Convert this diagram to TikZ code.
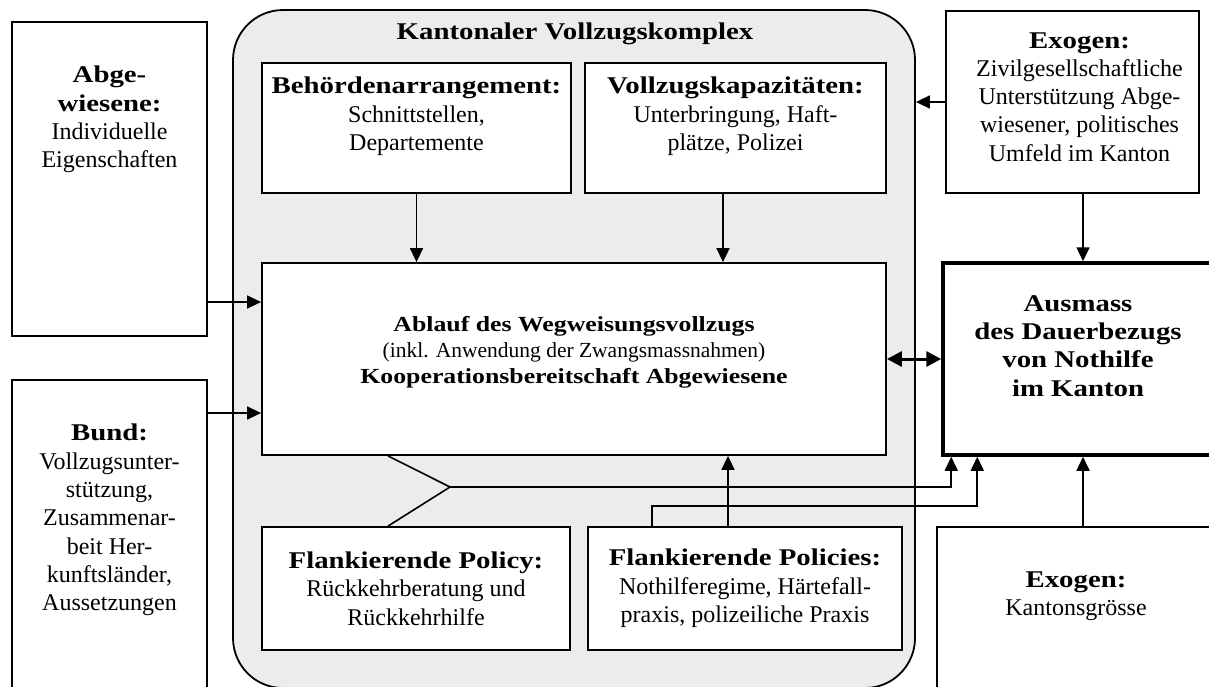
\documentclass[tikz,border=0pt]{standalone}
\usepackage{fontspec}
\setmainfont{Liberation Serif}[BoldFeatures={FakeStretch=1.2}]
\usepackage{tikz}
\usetikzlibrary{positioning,arrows.meta,calc}
\definecolor{komplexgrey}{RGB}{236,236,236}

\begin{document}
\begin{tikzpicture}[x=1pt, y=-1pt,
    box/.style={draw, line width=1.8pt, inner sep=0pt},
    txt/.style={align=center, inner sep=0pt, font=\fontsize{24}{28.3}\selectfont},
    arr/.style={-{Triangle[length=14pt,width=13pt]}, line width=1.6pt}]
    \useasboundingbox (0,0) rectangle (1209,686);
    \clip (0,0) rectangle (1209,686);

    % Kantonaler Vollzugskomplex
    \node[box, fill=komplexgrey, rounded corners=50pt, minimum width=682pt, minimum height=678pt] (komplex) at (574,349) {};
    \node[txt] (titel) at (575,34) {\textbf{Kantonaler Vollzugskomplex}};

    % Abgewiesene / Bund (left)
    \node[box, minimum width=195pt, minimum height=314pt] (abgew) at (109.5,179) {};
    \node[txt, below=45pt of abgew.north] (abgewtext) {\textbf{Abge-}\\\textbf{wiesene:}\\Individuelle\\Eigenschaften};
    \node[box, minimum width=195pt, minimum height=360pt] (bund) at (109.5,560) {};
    \node[txt, below=45pt of bund.north] (bundtext) {\textbf{Bund:}\\Vollzugsunter-\\stützung,\\Zusammenar-\\beit Her-\\kunftsländer,\\Aussetzungen};

    % Boxes inside the complex
    \node[box, fill=white, minimum width=309pt, minimum height=130pt] (behoerden) at (416.5,128) {};
    \node[txt, below=15pt of behoerden.north] (behoerdentext) {\textbf{Behördenarrangement:}\\Schnittstellen,\\Departemente};
    \node[box, fill=white, minimum width=301pt, minimum height=130pt] (kapaz) at (735.5,128) {};
    \node[txt, below=15pt of kapaz.north] (kapaztext) {\textbf{Vollzugskapazitäten:}\\Unterbringung, Haft-\\plätze, Polizei};
    \node[box, fill=white, minimum width=624pt, minimum height=192pt] (ablauf) at (574,359) {};
    \node[txt, font=\fontsize{21.5}{26}\selectfont] (ablauftext) at ([yshift=7pt]ablauf.center) {\textbf{Ablauf des Wegweisungsvollzugs}\\(inkl. Anwendung der Zwangsmassnahmen)\\\textbf{Kooperationsbereitschaft Abgewiesene}};
    \node[box, fill=white, minimum width=308pt, minimum height=123pt, txt] (policy) at (416,588.5) {\textbf{Flankierende Policy:}\\Rückkehrberatung und\\Rückkehrhilfe};
    \node[box, fill=white, minimum width=314pt, minimum height=123pt, txt] (policies) at (745,588.5) {\textbf{Flankierende Policies:}\\Nothilferegime, Härtefall-\\praxis, polizeiliche Praxis};

    % Exogen and Ausmass (right)
    \node[box, minimum width=253pt, minimum height=182pt] (exogenA) at (1072.5,102) {};
    \node[txt, below=22pt of exogenA.north, xshift=7pt] (exogenAtext) {\textbf{Exogen:}\\Zivilgesellschaftliche\\Unterstützung Abge-\\wiesener, politisches\\Umfeld im Kanton};
    \node[box, line width=3.5pt, minimum width=280pt, minimum height=192pt] (ausmass) at (1083,359) {};
    \node[txt, below=34pt of ausmass.north, xshift=-5pt] (ausmasstext) {\textbf{Ausmass}\\\textbf{des Dauerbezugs}\\\textbf{von Nothilfe}\\\textbf{im Kanton}};
    \node[box, minimum width=292pt, minimum height=213pt] (exogenB) at (1083,633.5) {};
    \node[txt, below=45pt of exogenB.north, xshift=-7pt] (exogenBtext) {\textbf{Exogen:}\\Kantonsgrösse};

    % Connectors
    \coordinate (inAbgew) at ([yshift=57pt]ablauf.west);
    \coordinate (inBund) at ([yshift=-54pt]ablauf.west);
    \coordinate (inKapaz) at ([xshift=149pt]ablauf.north);
    \coordinate (inPolicies) at ([xshift=154pt]ablauf.south);
    \coordinate (gabel) at (450,487);
    \draw[arr] (abgew.east |- inAbgew) -- (inAbgew);
    \draw[arr] (bund.east |- inBund) -- (inBund);
    \draw[arr] (behoerden.south) -- (behoerden.south |- ablauf.north);
    \draw[arr] (inKapaz |- kapaz.south) -- (inKapaz);
    \draw[arr] (inPolicies |- policies.north) -- (inPolicies);
    \draw[arr] (exogenA.west) -- (exogenA.west -| komplex.east);
    \draw[arr] (exogenA.south -| ausmass.north) -- (ausmass.north);
    \draw[arr] (exogenB.north) -- (ausmass.south);
    \draw[{Triangle[length=15pt,width=15pt]}-{Triangle[length=15pt,width=15pt]}, line width=3pt] (ablauf.east) -- (ausmass.west);
    \draw[line width=1.6pt] ([xshift=-186pt]ablauf.south) -- (gabel) -- ([xshift=-28pt]policy.north);
    \draw[arr] (gabel) -| ([xshift=10pt]ausmass.south west);
    \draw[arr] ([xshift=-93pt]policies.north) -- ++(0,-20) -| ([xshift=36pt]ausmass.south west);
\end{tikzpicture}
\end{document}
